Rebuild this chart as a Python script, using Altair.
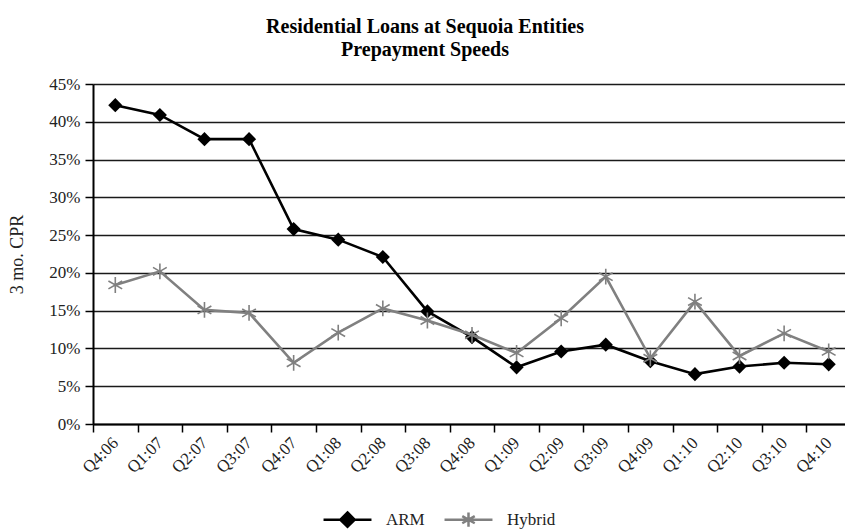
import altair as alt
import pandas as pd

quarters = ["Q4:06", "Q1:07", "Q2:07", "Q3:07", "Q4:07", "Q1:08", "Q2:08", "Q3:08", "Q4:08",
            "Q1:09", "Q2:09", "Q3:09", "Q4:09", "Q1:10", "Q2:10", "Q3:10", "Q4:10"]
arm = [42.2, 40.9, 37.7, 37.7, 25.8, 24.4, 22.1, 14.9, 11.5, 7.5, 9.6, 10.5, 8.3, 6.6, 7.6, 8.1, 7.9]
hybrid = [18.4, 20.2, 15.1, 14.7, 8.1, 12.1, 15.3, 13.7, 11.8, 9.4, 14.0, 19.5, 8.7, 16.2, 9.0, 12.0, 9.6]
series = ["ARM", "Hybrid"]
y_ticks = [0, 0.05, 0.10, 0.15, 0.20, 0.25, 0.30, 0.35, 0.40, 0.45]

rows = []
for s, vals in zip(series, [arm, hybrid]):
    for q, v in zip(quarters, vals):
        rows.append({"quarter": q, "series": s, "cpr": v / 100.0})
df = pd.DataFrame(rows)

FONT = "Liberation Serif"
colors = ["#000000", "#808080"]
fills = ["#000000", "rgba(0,0,0,0)"]
star = "M0,-1L0,1M-0.87,-0.5L0.87,0.5M-0.87,0.5L0.87,-0.5"
legend_shapes = [
    "M-1,0L1,0M0,-0.3L0.3,0L0,0.3L-0.3,0Z",
    "M-1,0L1,0M0,-0.3L0,0.3M-0.26,-0.15L0.26,0.15M-0.26,0.15L0.26,-0.15",
]

x_enc = alt.X("quarter:N", sort=quarters, title=None,
              scale=alt.Scale(domain=quarters, range=[0, 758], paddingInner=0, paddingOuter=0),
              axis=alt.Axis(tickBand="extent", labelAngle=315, labelAlign="right",
                            labelBaseline="middle", labelFont=FONT, labelFontSize=17,
                            labelColor="#222", labelPadding=8, tickSize=8, tickWidth=1.5,
                            tickColor="#000", domainColor="#000", domainWidth=2, grid=False))
y_enc = alt.Y("cpr:Q", title="3 mo. CPR",
              scale=alt.Scale(domain=[0, 0.45], nice=False),
              axis=alt.Axis(values=y_ticks, format=".0%", labelFont=FONT, labelFontSize=17,
                            labelColor="#222", labelPadding=5, tickSize=8, tickWidth=1.5,
                            tickColor="#000", domainColor="#000", domainWidth=2,
                            grid=True, gridColor="#1a1a1a", gridWidth=1.6,
                            titleFont=FONT, titleFontSize=18, titleFontWeight="normal",
                            titleColor="#222", titlePadding=22))

stroke_enc = alt.Stroke("series:N", scale=alt.Scale(domain=series, range=colors), legend=None)

base = alt.Chart(df)

def series_layers(name):
    sub = base.transform_filter(alt.datum.series == name)
    line = sub.mark_line(strokeWidth=2.6).encode(x=x_enc, y=y_enc, stroke=stroke_enc)
    if name == "ARM":
        pts = sub.mark_point(shape="diamond", filled=True, size=200, color="#000",
                             opacity=1).encode(x=x_enc, y=y_enc)
    else:
        pts = sub.mark_point(shape=star, filled=False, size=250, color="#808080",
                             strokeWidth=1.6, opacity=1).encode(x=x_enc, y=y_enc)
    return [line, pts]

leg = alt.Legend(title=None, orient="none", direction="horizontal",
                 legendX=229, legendY=410, symbolSize=2300,
                 symbolStrokeWidth=2.5, symbolOpacity=1,
                 labelFont=FONT, labelFontSize=17, labelColor="#222",
                 labelOffset=13, columnPadding=14)

legend_layer = base.transform_filter("false").mark_point(strokeWidth=2.5, opacity=1).encode(
    x=x_enc, y=y_enc,
    shape=alt.Shape("series:N", scale=alt.Scale(domain=series, range=legend_shapes), legend=leg),
    fill=alt.Fill("series:N", scale=alt.Scale(domain=series, range=fills), legend=leg),
    stroke=alt.Stroke("series:N", scale=alt.Scale(domain=series, range=colors), legend=leg),
)

chart = alt.layer(*series_layers("ARM"), *series_layers("Hybrid"), legend_layer).resolve_scale(
    shape="independent", stroke="independent", fill="independent"
).properties(
    width=752, height=340,
    padding={"left": 93, "top": 84, "right": 0, "bottom": 105},
    autosize=alt.AutoSizeParams(type="none"),
    title=alt.TitleParams(["Residential Loans at Sequoia Entities", "Prepayment Speeds"],
                          font=FONT, fontSize=20, fontWeight="bold", color="#000",
                          anchor="middle", dx=-44, offset=15, lineHeight=23),
).configure_view(stroke=None).configure(background="white")

chart.save("out.html", embed_options={"renderer": "svg", "actions": False})
